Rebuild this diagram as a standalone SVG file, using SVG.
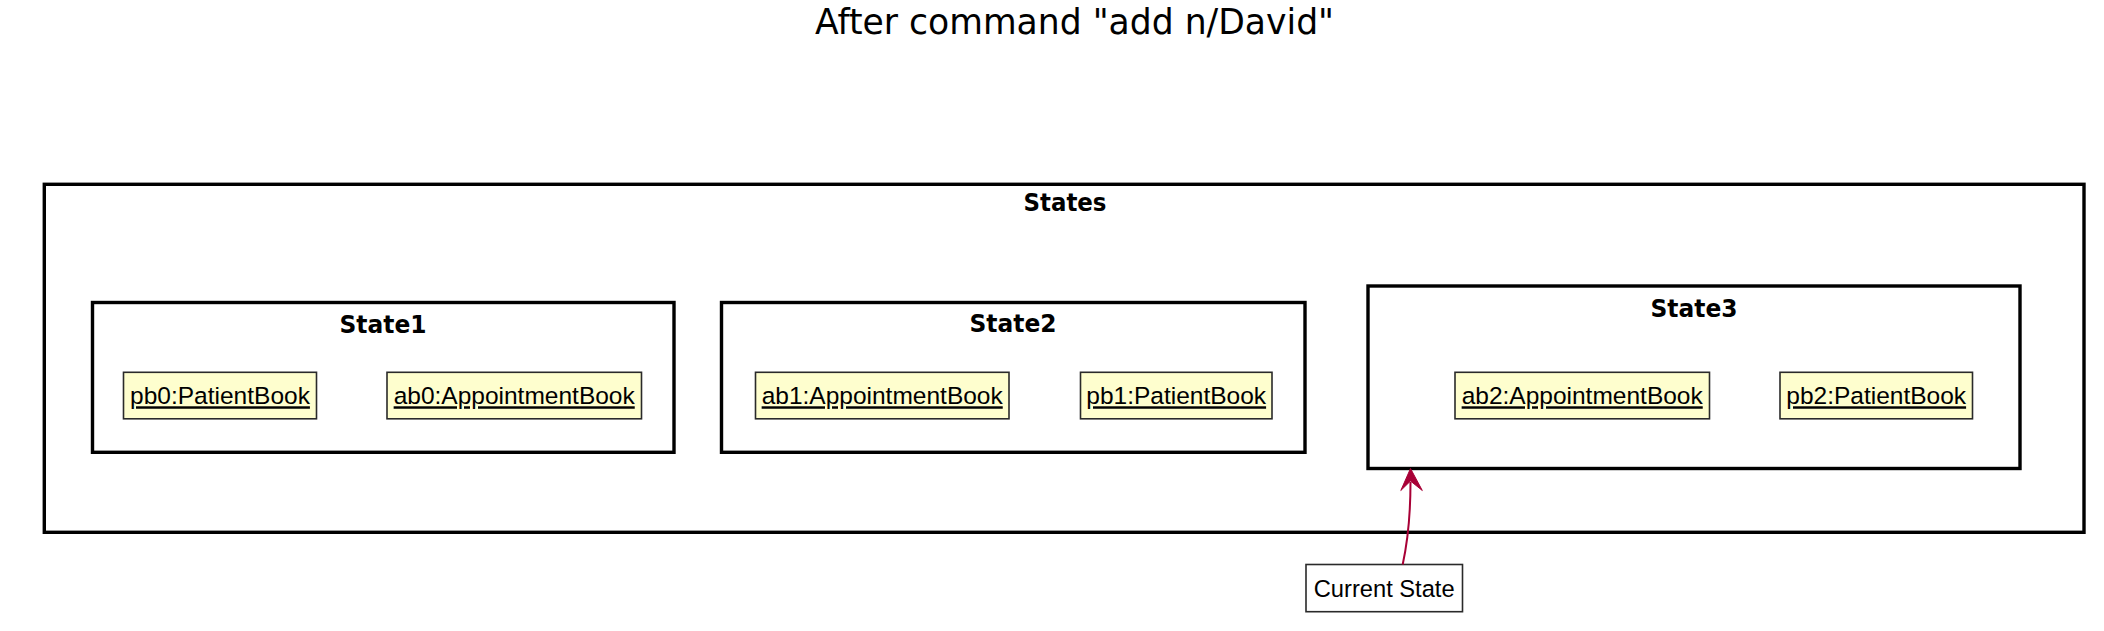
<svg xmlns="http://www.w3.org/2000/svg" width="2104" height="631" viewBox="0 0 2104 631">
<style>
.title{font-family:"DejaVu Sans",sans-serif;font-size:35px;fill:#000}
.pkg{fill:none;stroke:#000;stroke-width:3.4}
.pkgl{font-family:"DejaVu Sans",sans-serif;font-size:24.5px;font-weight:bold;fill:#000}
.obj{fill:#FEFECE;stroke:#2a2a2a;stroke-width:1.6}
.objt{font-family:"Liberation Sans",Arial,sans-serif;font-size:24.5px;fill:#000;text-anchor:middle;text-decoration:underline}
.note{fill:#fff;stroke:#2a2a2a;stroke-width:1.6}
.notet{font-family:"Liberation Sans",Arial,sans-serif;font-size:23.7px;fill:#000;text-anchor:middle}
.conn{fill:none;stroke:#A80036;stroke-width:2}
</style>
<rect width="2104" height="631" fill="#fff"/>
<text class="title" x="815" y="34.3" textLength="519" lengthAdjust="spacingAndGlyphs">After command "add n/David"</text>

<g id="States">
<rect class="pkg" x="44.3" y="184.3" width="2039.7" height="348"/>
<text class="pkgl" x="1023.5" y="211" textLength="83" lengthAdjust="spacingAndGlyphs">States</text>
</g>

<g id="State1">
<rect class="pkg" x="92.5" y="302.5" width="581.5" height="149.8"/>
<text class="pkgl" x="339.5" y="333" textLength="87" lengthAdjust="spacingAndGlyphs">State1</text>
</g>
<g id="pb0">
<rect class="obj" x="123.5" y="372.3" width="193" height="46.5"/>
<text class="objt" x="220" y="404.3">pb0:PatientBook</text>
</g>
<g id="ab0">
<rect class="obj" x="387" y="372.3" width="254.5" height="46.5"/>
<text class="objt" x="514.2" y="404.3">ab0:AppointmentBook</text>
</g>

<g id="State2">
<rect class="pkg" x="721.5" y="302.5" width="583.5" height="149.8"/>
<text class="pkgl" x="969.5" y="332" textLength="87" lengthAdjust="spacingAndGlyphs">State2</text>
</g>
<g id="ab1">
<rect class="obj" x="755.5" y="372.3" width="253.5" height="46.5"/>
<text class="objt" x="882.2" y="404.3">ab1:AppointmentBook</text>
</g>
<g id="pb1">
<rect class="obj" x="1080.5" y="372.3" width="191.5" height="46.5"/>
<text class="objt" x="1176.2" y="404.3">pb1:PatientBook</text>
</g>

<g id="State3">
<rect class="pkg" x="1368" y="286" width="652" height="182.5"/>
<text class="pkgl" x="1650.5" y="316.7" textLength="87" lengthAdjust="spacingAndGlyphs">State3</text>
</g>
<g id="ab2">
<rect class="obj" x="1455" y="372.3" width="254.5" height="46.5"/>
<text class="objt" x="1582.2" y="404.3">ab2:AppointmentBook</text>
</g>
<g id="pb2">
<rect class="obj" x="1780" y="372.3" width="192.5" height="46.5"/>
<text class="objt" x="1876.2" y="404.3">pb2:PatientBook</text>
</g>

<g id="CurrentState">
<rect class="note" x="1306" y="564.5" width="156.5" height="47.2"/>
<text class="notet" x="1384.2" y="596.7">Current State</text>
</g>

<g id="connectors">
<path class="conn" d="M1402.7,564.5 C1408,540 1410.5,515 1410.5,482"/>
<polygon points="1410.5,468.5 1422.3,490.5 1410.5,481 1400.8,490.5" fill="#A80036" stroke="#A80036" stroke-width="1"/>
</g>
</svg>
